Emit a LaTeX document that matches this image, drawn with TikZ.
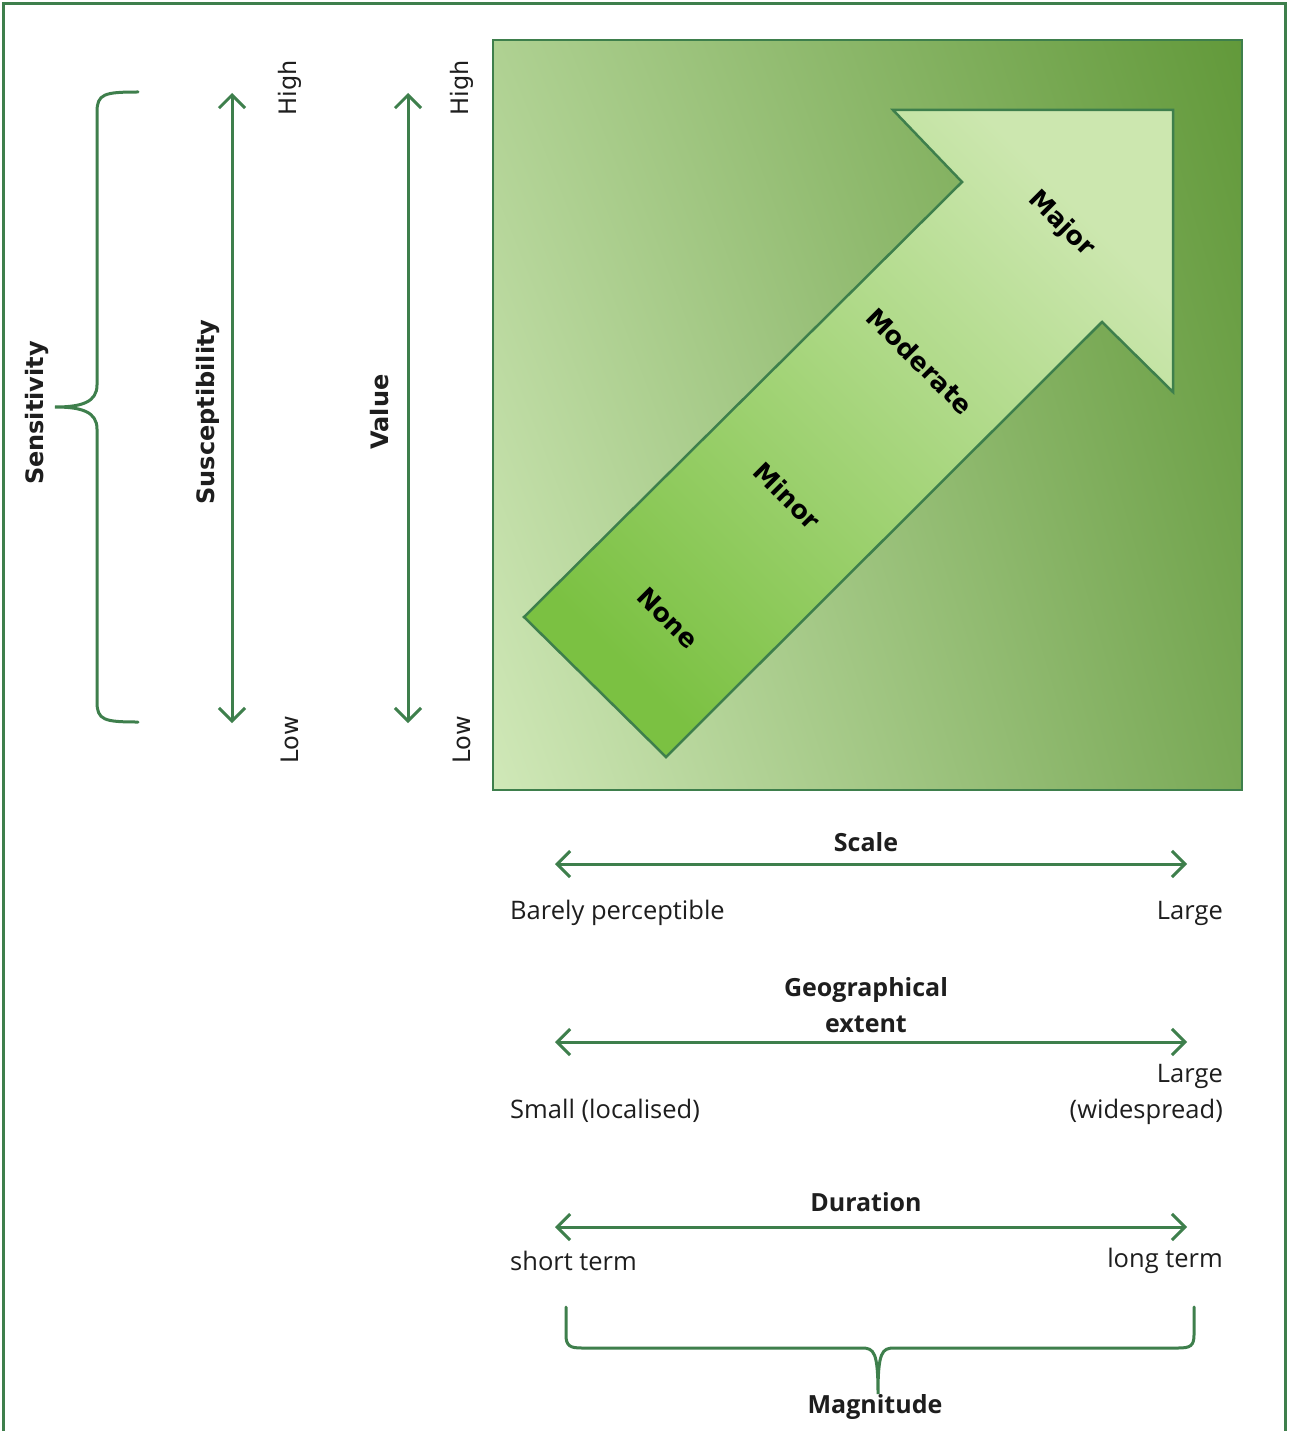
\documentclass[tikz,border=0pt]{standalone}
\usepackage{fontspec}
\setmainfont{DejaVu Sans}
\newfontfamily\botfont{Open Sans}
\usetikzlibrary{arrows.meta,shadings}
\definecolor{lc}{HTML}{3E7F4C}
\definecolor{txt}{HTML}{1E1E1E}
\definecolor{ul}{HTML}{AFD192}
\definecolor{ur}{HTML}{62993A}
\definecolor{ll}{HTML}{D0E8B8}
\definecolor{lr}{HTML}{79A956}
\definecolor{atail}{HTML}{7BC142}
\definecolor{amid}{HTML}{A6D67F}
\definecolor{ahead}{HTML}{CCE7AF}
\tikzset{
  conn/.style={draw=lc, line width=3pt, {Straight Barb[length=13pt,width=26pt,line width=3pt]}-{Straight Barb[length=13pt,width=26pt,line width=3pt]}},
  brace/.style={draw=lc, line width=3pt, line cap=round},
  vlab/.style={rotate=90, text=txt, font=\bfseries\fontsize{24}{28}\selectfont, inner sep=0pt},
  hl/.style={rotate=90, text=txt, font=\fontsize{24}{28}\selectfont, inner sep=0pt},
  alab/.style={rotate=-45, text=black, font=\bfseries\fontsize{25.5}{30}\selectfont, inner sep=0pt},
  btitle/.style={text=txt, font=\botfont\bfseries\fontsize{25}{36}\selectfont, inner sep=0pt, align=center},
  bl/.style={text=txt, font=\botfont\fontsize{25.5}{36}\selectfont, inner sep=0pt},
}
\begin{document}
\begin{tikzpicture}[x=1pt,y=-1pt]
\useasboundingbox (0,0) rectangle (1288,1431);
\fill[white] (0,0) rectangle (1288,1431);
\draw[lc, line width=3pt] (3,1431) -- (3,4) -- (1285,4) -- (1285,1431);

% square
\shade[upper left=ul, upper right=ur, lower left=ll, lower right=lr] (493,40) rectangle (1242,790);
\draw[lc, line width=2.5pt] (493,40) rectangle (1242,790);

% big arrow
\coordinate (t1) at (524,617);
\coordinate (t2) at (666,757);
\coordinate (n1) at (962,182);
\coordinate (b1) at (893,110);
\coordinate (tip) at (1173,110);
\coordinate (b2) at (1173,392);
\coordinate (n2) at (1102,322);
\shade[bottom color=atail, middle color=amid, top color=ahead, shading angle=-45]
  (t1) -- (n1) -- (b1) -- (tip) -- (b2) -- (n2) -- (t2) -- cycle;
\draw[lc, line width=2.5pt, line join=miter]
  (t1) -- (n1) -- (b1) -- (tip) -- (b2) -- (n2) -- (t2) -- cycle;

\node[alab] (major) at (1061,224) {Major};
\node[alab] (moderate) at (920,361) {Moderate};
\node[alab] (minor) at (787,496) {Minor};
\node[alab] (none) at (668,618) {None};

% left side
\node[vlab] (sens) at (37,413) {Sensitivity};
\node[vlab] (susc) at (208,412) {Susceptibility};
\node[vlab] (val) at (380,412) {Value};
\node[hl] (h1) at (290,88) {High};
\node[hl] (l1) at (290,740) {Low};
\node[hl] (h2) at (462,88) {High};
\node[hl] (l2) at (462,740) {Low};

\coordinate (sa1) at (232,93);
\coordinate (sa2) at (232,723);
\coordinate (va1) at (408,93);
\coordinate (va2) at (408,723);
\draw[conn] (sa2) -- (sa1);
\draw[conn] (va2) -- (va1);

\coordinate (bt) at (138,92);
\coordinate (bb) at (138,722);
\coordinate (bm) at (55,407);
\draw[brace] (bt) .. controls (104,92) and (97,94) .. (97,112) -- (97,385)
  .. controls (97,402) and (82,407) .. (bm)
  .. controls (82,407) and (97,412) .. (97,429) -- (97,702)
  .. controls (97,720) and (104,722) .. (bb);

% bottom scales
\node[btitle] (scale) at (866,842) {Scale};
\coordinate (s1) at (555,864);
\coordinate (s2) at (1187,864);
\draw[conn] (s1) -- (s2);
\node[bl, anchor=west] (bp) at (510,913) {Barely perceptible};
\node[bl, anchor=east] (lg1) at (1223,913) {Large};

\node[btitle] (geo) at (866,1005) {Geographical\\extent};
\coordinate (g1) at (555,1042);
\coordinate (g2) at (1187,1042);
\draw[conn] (g1) -- (g2);
\node[bl, anchor=west] (sm) at (510,1111) {Small (localised)};
\node[bl, anchor=east, align=right] (lg2) at (1223,1094) {Large\\(widespread)};

\node[btitle] (dur) at (866,1202) {Duration};
\coordinate (d1) at (555,1227);
\coordinate (d2) at (1187,1227);
\draw[conn] (d1) -- (d2);
\node[bl, anchor=west] (st) at (510,1261) {short term};
\node[bl, anchor=east] (lt) at (1223,1261) {long term};

\coordinate (mb1) at (566,1307);
\coordinate (mb2) at (1194,1307);
\coordinate (mbm) at (878,1394);
\draw[brace] (mb1) -- (566,1335) .. controls (566,1346) and (570,1348) .. (582,1348) -- (862,1348)
  .. controls (874,1348) and (878,1352) .. (mbm)
  .. controls (878,1352) and (882,1348) .. (894,1348) -- (1178,1348)
  .. controls (1190,1348) and (1194,1346) .. (1194,1335) -- (mb2);
\node[btitle] (mag) at (875,1407) {Magnitude};
\end{tikzpicture}
\end{document}
